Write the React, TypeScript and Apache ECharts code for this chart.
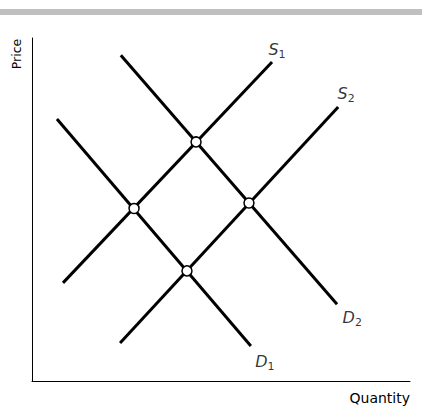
import React, { useEffect, useRef } from "react";
import * as echarts from "echarts";

// Curve endpoints in data units (quantity, price)
const supply1: number[][] = [[0.82, 2.86], [6.35, 9.30]];
const supply2: number[][] = [[2.33, 1.11], [8.10, 7.99]];
const demand1: number[][] = [[0.66, 7.64], [5.79, 1.02]];
const demand2: number[][] = [[2.35, 9.50], [8.07, 2.24]];
// Equilibrium points (intersections)
const equilibria: number[][] = [[2.70, 5.03], [4.34, 6.97], [5.74, 5.19], [4.10, 3.21]];
// Curve labels: letter, subscript
const curveLetters = ["S", "S", "D", "D"];
const curveSubs = ["1", "2", "1", "2"];
const axisNames = ["Quantity", "Price"];

export default function App() {
  const ref = useRef<HTMLDivElement>(null);

  useEffect(() => {
    if (!ref.current) return;
    const chart = echarts.init(ref.current, null, { renderer: "svg" });
    const curves = [supply1, supply2, demand1, demand2];
    const labelOffsets = [[5, -11.2], [8, -12.4], [14, 16.7], [15.2, 14.5]];

    const lineSeries = curves.map((c) => ({
      type: "line",
      data: c,
      symbol: "none",
      silent: true,
      z: 2,
      lineStyle: { color: "#000", width: 3, cap: "butt" },
    }));

    const labelSeries = {
      type: "scatter",
      silent: true,
      symbolSize: 1,
      itemStyle: { color: "rgba(0,0,0,0)" },
      z: 3,
      data: curves.map((c, i) => ({
        value: c[1],
        label: {
          show: true,
          position: "inside",
          offset: labelOffsets[i],
          formatter: `{s|${curveLetters[i]}}{n|${curveSubs[i]}}`,
          rich: {
            s: {
              fontFamily: "DejaVu Sans",
              fontStyle: "italic",
              fontSize: 16,
              lineHeight: 16,
              verticalAlign: "top",
              color: "#000",
            },
            n: {
              fontFamily: "DejaVu Sans",
              fontSize: 11,
              lineHeight: 19,
              verticalAlign: "bottom",
              color: "#000",
            },
          },
        },
      })),
    };

    const eqSeries = {
      type: "scatter",
      silent: true,
      data: equilibria,
      symbol: "circle",
      symbolSize: 10,
      z: 4,
      itemStyle: { color: "#fff", borderColor: "#000", borderWidth: 1.5, opacity: 1 },
    };

    chart.setOption({
      animation: false,
      backgroundColor: "#fff",
      grid: { left: 32, top: 38, width: 378, height: 343, containLabel: false },
      xAxis: {
        type: "value",
        min: 0,
        max: 10,
        axisLine: { show: true, onZero: false, lineStyle: { color: "#000", width: 1 } },
        axisTick: { show: false },
        axisLabel: { show: false },
        splitLine: { show: false },
      },
      yAxis: {
        type: "value",
        min: 0,
        max: 10,
        axisLine: { show: true, onZero: false, lineStyle: { color: "#000", width: 1 } },
        axisTick: { show: false },
        axisLabel: { show: false },
        splitLine: { show: false },
      },
      graphic: [
        {
          type: "rect",
          shape: { x: 0, y: 9, width: 422, height: 6 },
          style: { fill: "#c0c0c0" },
          silent: true,
        },
        {
          type: "text",
          x: 410,
          y: 397.5,
          style: {
            text: axisNames[0],
            fontFamily: "DejaVu Sans",
            fontSize: 14,
            fill: "#000",
            align: "right",
            verticalAlign: "middle",
          },
          silent: true,
        },
        {
          type: "text",
          x: 16,
          y: 54,
          rotation: Math.PI / 2,
          style: {
            text: axisNames[1],
            fontFamily: "DejaVu Sans",
            fontSize: 12.5,
            fill: "#000",
            align: "center",
            verticalAlign: "middle",
          },
          silent: true,
        },
      ],
      series: [...lineSeries, labelSeries, eqSeries],
    });

    return () => chart.dispose();
  }, []);

  return (
    <div
      ref={ref}
      style={{ position: "fixed", left: 0, top: 0, width: 422, height: 410 }}
    />
  );
}
